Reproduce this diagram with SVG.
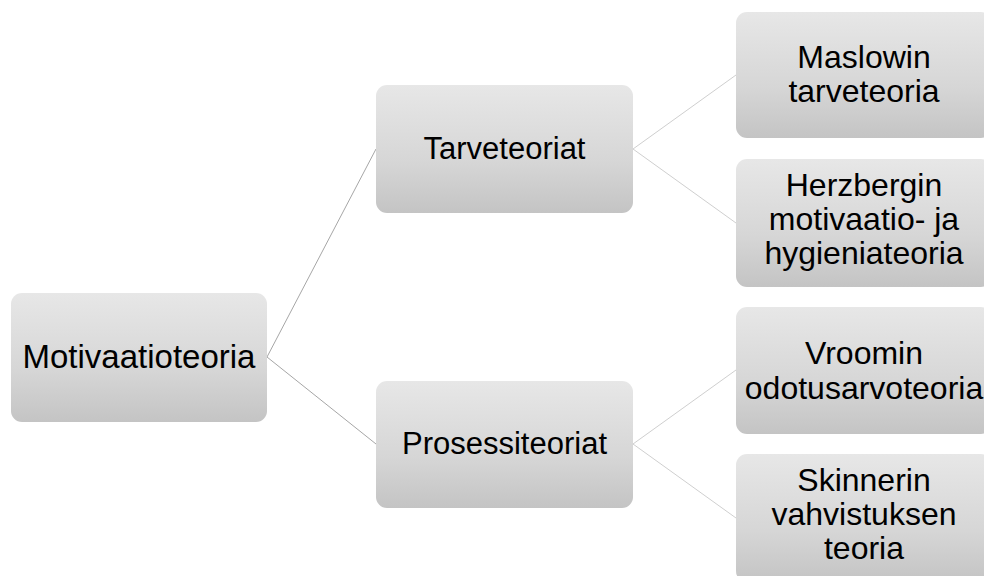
<svg xmlns="http://www.w3.org/2000/svg" width="984" height="576" viewBox="0 0 984 576">
<defs>
<linearGradient id="g" x1="0" y1="0" x2="0" y2="1">
<stop offset="0" stop-color="#e7e7e7"/>
<stop offset="0.6" stop-color="#d6d6d6"/>
<stop offset="1" stop-color="#c4c4c4"/>
</linearGradient>
<style>
.box{fill:url(#g);stroke:none}
.t{font-family:"Liberation Sans",Arial,sans-serif;font-size:32px;fill:#000;text-anchor:middle}
.c1{stroke:#a6a6a6;stroke-width:1;fill:none}
.c2{stroke:#cfcfcf;stroke-width:1;fill:none}
</style>
</defs>
<rect width="984" height="576" fill="#fff"/>
<g id="connectors">
<line class="c1" x1="267" y1="357" x2="376" y2="149"/>
<line class="c1" x1="267" y1="357" x2="376" y2="444"/>
<line class="c2" x1="633" y1="149" x2="736" y2="75"/>
<line class="c2" x1="633" y1="149" x2="736" y2="223"/>
<line class="c2" x1="633" y1="444" x2="736" y2="370"/>
<line class="c2" x1="633" y1="444" x2="736" y2="518"/>
</g>
<g id="motivaatioteoria">
<rect class="box" x="11" y="293" width="256" height="129" rx="11"/>
<text class="t" x="139" y="368" style="font-size:33px">Motivaatioteoria</text>
</g>
<g id="tarveteoriat">
<rect class="box" x="376" y="85" width="257" height="128" rx="11"/>
<text class="t" x="504.5" y="159" style="font-size:31px">Tarveteoriat</text>
</g>
<g id="prosessiteoriat">
<rect class="box" x="376" y="381" width="257" height="127" rx="11"/>
<text class="t" x="504.5" y="454" style="font-size:31px">Prosessiteoriat</text>
</g>
<g id="maslowin">
<rect class="box" x="736" y="12" width="256" height="126" rx="11"/>
<text class="t" x="864" y="68">Maslowin</text>
<text class="t" x="864" y="102">tarveteoria</text>
</g>
<g id="herzbergin">
<rect class="box" x="736" y="159" width="256" height="128" rx="11"/>
<text class="t" x="864" y="196">Herzbergin</text>
<text class="t" x="864" y="230">motivaatio- ja</text>
<text class="t" x="864" y="264">hygieniateoria</text>
</g>
<g id="vroomin">
<rect class="box" x="736" y="307" width="256" height="127" rx="11"/>
<text class="t" x="864" y="364">Vroomin</text>
<text class="t" x="864" y="399">odotusarvoteoria</text>
</g>
<g id="skinnerin">
<rect class="box" x="736" y="454" width="256" height="128" rx="11"/>
<text class="t" x="864" y="491">Skinnerin</text>
<text class="t" x="864" y="525">vahvistuksen</text>
<text class="t" x="864" y="559">teoria</text>
</g>
</svg>
